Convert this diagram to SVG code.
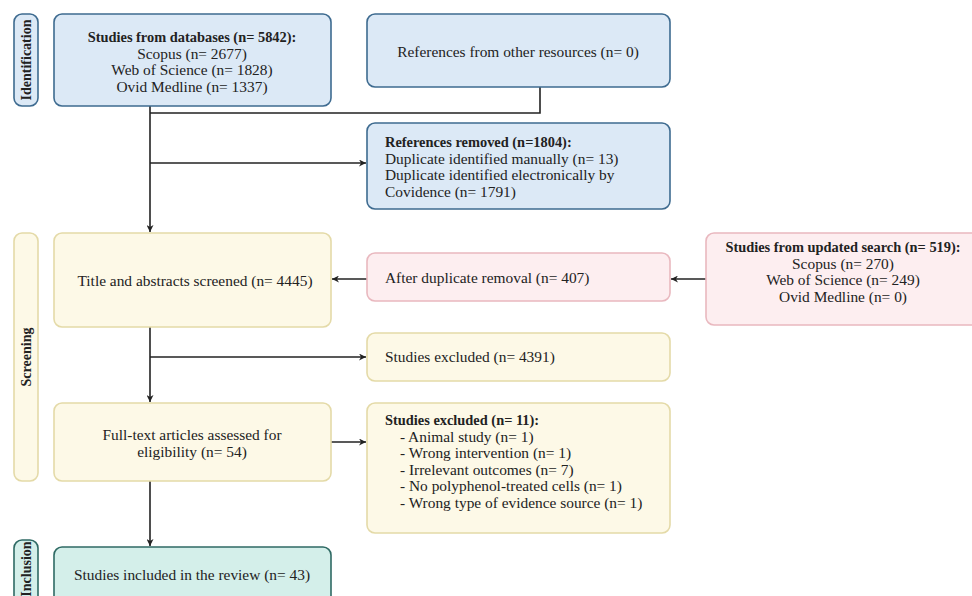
<svg xmlns="http://www.w3.org/2000/svg" width="972" height="596" viewBox="0 0 972 596">
<defs>
<marker id="ah" viewBox="0 0 10 10" refX="10" refY="5" markerWidth="7" markerHeight="7" markerUnits="userSpaceOnUse" orient="auto">
<path d="M0,0 L10,5 L0,10 L3,5 Z" fill="#222"/>
</marker>
<style>
text{font-family:"Liberation Serif","Times New Roman",serif;font-size:15.4px;fill:#222}
.b{font-weight:bold;font-size:14.4px}
.lb{font-weight:bold;font-size:14px}
.c{text-anchor:middle}
.blue{fill:#dce9f6;stroke:#3e6b90;stroke-width:1.6}
.yel{fill:#fdf9e7;stroke:#e4daa8;stroke-width:1.6}
.pink{fill:#fdeef0;stroke:#e9b8bf;stroke-width:1.6}
.teal{fill:#d4efea;stroke:#2f6a64;stroke-width:1.6}
.ln{fill:none;stroke:#222;stroke-width:1.6}
</style>
</defs>
<rect width="972" height="596" fill="#fff"/>

<g id="lbl-identification">
<rect class="blue" x="14" y="14" width="24" height="92" rx="8"/>
<text class="lb c" transform="translate(31,60) rotate(-90)">Identification</text>
</g>
<g id="lbl-screening">
<rect class="yel" x="14" y="233" width="24" height="248" rx="8"/>
<text class="lb c" transform="translate(31,357) rotate(-90)">Screening</text>
</g>
<g id="lbl-inclusion">
<rect class="teal" x="14" y="540" width="24" height="70" rx="8"/>
<text class="lb c" transform="translate(31,569) rotate(-90)">Inclusion</text>
</g>

<g id="connectors">
<path class="ln" d="M150,106 V232" marker-end="url(#ah)"/>
<path class="ln" d="M150,113 H540 V87"/>
<path class="ln" d="M150,163 H366" marker-end="url(#ah)"/>
<path class="ln" d="M367,279 H332" marker-end="url(#ah)"/>
<path class="ln" d="M706,279 H671" marker-end="url(#ah)"/>
<path class="ln" d="M150,327 V402" marker-end="url(#ah)"/>
<path class="ln" d="M150,357 H366" marker-end="url(#ah)"/>
<path class="ln" d="M331,442 H366" marker-end="url(#ah)"/>
<path class="ln" d="M150,481 V546" marker-end="url(#ah)"/>
</g>

<g id="n-databases">
<rect class="blue" x="54" y="14" width="277" height="92" rx="8"/>
<text class="c" x="192" y="42"><tspan class="b">Studies from databases (n= 5842):</tspan><tspan x="192" dy="16.5">Scopus (n= 2677)</tspan><tspan x="192" dy="16.5">Web of Science (n= 1828)</tspan><tspan x="192" dy="16.5">Ovid Medline (n= 1337)</tspan></text>
</g>
<g id="n-other">
<rect class="blue" x="367" y="14" width="303" height="73" rx="8"/>
<text class="c" x="518" y="57">References from other resources  (n= 0)</text>
</g>
<g id="n-removed">
<rect class="blue" x="367" y="123" width="303" height="86" rx="8"/>
<text x="385" y="147"><tspan class="b">References removed (n=1804):</tspan><tspan x="385" dy="16.7">Duplicate identified manually (n= 13)</tspan><tspan x="385" dy="16.7">Duplicate identified electronically by</tspan><tspan x="385" dy="16.7">Covidence (n= 1791)</tspan></text>
</g>
<g id="n-screened">
<rect class="yel" x="54" y="233" width="277" height="94" rx="8"/>
<text class="c" x="195" y="286">Title and abstracts screened (n= 4445)</text>
</g>
<g id="n-afterdup">
<rect class="pink" x="367" y="253" width="303" height="48" rx="8"/>
<text x="385" y="283">After duplicate removal (n= 407)</text>
</g>
<g id="n-updated">
<rect class="pink" x="706" y="233" width="280" height="92" rx="8"/>
<text class="c" x="843" y="252"><tspan class="b">Studies from updated search (n= 519):</tspan><tspan x="843" dy="16.5">Scopus (n= 270)</tspan><tspan x="843" dy="16.5">Web of Science (n= 249)</tspan><tspan x="843" dy="16.5">Ovid Medline (n= 0)</tspan></text>
</g>
<g id="n-excluded1">
<rect class="yel" x="367" y="333" width="303" height="48" rx="8"/>
<text x="385" y="362">Studies excluded (n= 4391)</text>
</g>
<g id="n-fulltext">
<rect class="yel" x="54" y="403" width="277" height="78" rx="8"/>
<text class="c" x="192" y="440"><tspan>Full-text articles assessed for</tspan><tspan x="192" dy="17">eligibility (n= 54)</tspan></text>
</g>
<g id="n-excluded2">
<rect class="yel" x="367" y="403" width="303" height="130" rx="8"/>
<text x="385" y="425"><tspan class="b">Studies excluded (n= 11):</tspan><tspan x="400" dy="16.6">- Animal study (n= 1)</tspan><tspan x="400" dy="16.6">- Wrong intervention (n= 1)</tspan><tspan x="400" dy="16.6">- Irrelevant outcomes (n= 7)</tspan><tspan x="400" dy="16.6">- No polyphenol-treated cells (n= 1)</tspan><tspan x="400" dy="16.6">- Wrong type of evidence source (n= 1)</tspan></text>
</g>
<g id="n-included">
<rect class="teal" x="54" y="547" width="277" height="70" rx="8"/>
<text class="c" x="192" y="580">Studies included in the review (n= 43)</text>
</g>
</svg>
